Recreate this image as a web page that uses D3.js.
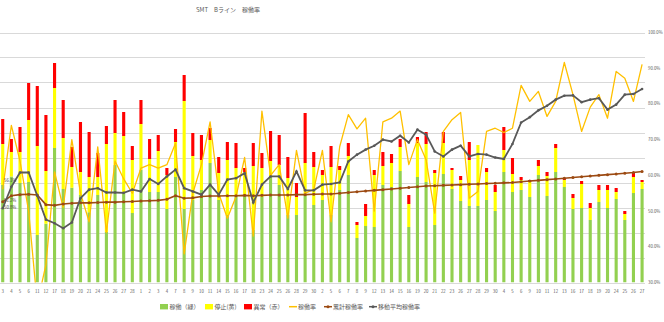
<!DOCTYPE html>
<html>
<head>
<meta charset="utf-8">
<script src="https://d3js.org/d3.v7.min.js"></script>
<style>
  html, body { margin: 0; padding: 0; background: #fff; }
  svg { display: block; font-family: "Noto Sans CJK JP", "Noto Sans", sans-serif; }
</style>
</head>
<body>
<svg id="main"></svg>
<script>
// x categories (day of month)
const days = [3,4,5,6,11,12,17,18,19,20,21,24,25,26,27,28,1,2,3,4,7,8,9,10,11,14,15,16,17,18,
  23,24,25,26,28,29,30,2,5,6,7,8,9,12,13,14,15,16,19,20,21,22,23,26,27,28,29,30,4,5,
  6,9,10,11,12,13,16,17,18,19,20,24,25,26,27];

// stacked bars (left axis, hidden, 0-100)
const running = [39.0,42.4,39.8,40.2,19.0,23.5,53.8,37.4,37.9,35.0,28.1,35.0,20.2,47.0,36.2,27.8,45.0,36.2,36.2,29.4,
  42.2,29.4,33.0,37.0,47.8,33.0,27.0,35.0,35.0,21.0,34.2,42.6,39.0,27.0,27.0,35.0,31.0,33.0,27.0,37.0,
  43.0,17.8,22.6,22.2,39.0,38.2,44.6,22.2,42.2,40.2,23.0,43.4,37.4,32.6,30.6,30.6,33.0,28.6,44.2,36.2,
  37.0,34.2,43.0,34.6,44.2,38.2,29.4,29.8,25.0,32.2,29.8,33.4,25.0,35.8,37.4];
const stopped = [16.4,9.8,12.4,24.8,35.6,21.1,24.0,20.4,8.3,9.2,14.1,7.2,35.2,12.8,22.4,21.2,18.4,13.2,16.4,13.6,
  14.0,43.2,17.6,12.0,9.2,10.8,22.0,10.8,9.2,25.6,11.6,6.0,8.0,14.8,7.2,12.8,15.2,10.0,19.2,8.0,
  7.6,5.2,4.0,20.8,7.6,9.6,9.6,9.2,13.6,15.2,20.8,12.4,7.6,8.4,18.4,24.4,11.2,7.6,8.8,7.2,
  4.0,6.0,3.6,8.0,9.6,2.8,4.4,9.6,4.8,4.8,7.2,2.8,2.4,6.4,2.8];
const errors = [10.0,5.2,10.0,14.8,24.0,22.4,10.0,15.2,8.0,20.0,18.0,9.6,7.2,13.2,9.6,5.6,9.6,8.0,6.4,2.8,
  5.2,10.4,9.2,10.0,4.8,6.4,7.2,10.0,1.6,9.2,6.0,12.0,12.0,8.4,5.6,20.0,6.0,2.0,8.4,1.6,
  5.2,1.2,4.8,2.0,5.6,3.6,3.2,3.6,2.4,4.8,1.2,4.4,0.8,1.6,7.2,0,1.6,2.8,9.2,6.4,
  1.2,0.8,2.4,1.6,1.6,0.8,1.6,1.2,2.0,2.0,2.0,1.6,1.2,2.0,0.8];

// lines (right axis, %)
const rate = [56.1,74,64,50,24,35,61,51,70,55,47,68,44,64,59,55,62,63,62,63,
  69,38,55,63,75,55,48,54,65,43,78,60,63,48,67,55,56,67,47,68,
  77,73,76,50,75,76,78,63,70,64.4,49.4,72.3,75.6,77.6,53.6,55.5,72.3,73.2,72.0,73.2,
  85.2,80.7,83.5,76.5,80.7,91.6,82.6,72.3,79.1,82.6,76.0,89.1,87.2,80.7,91.1];
const cumRate = [52.6,54.3,54.6,54.7,54.5,51.8,51.6,52.0,52.2,52.3,52.3,52.4,52.5,52.5,52.6,52.7,52.8,52.9,53.0,53.3,
  54.3,53.6,53.7,54.1,54.2,54.2,54.3,54.3,54.4,54.3,54.4,54.5,54.5,54.5,54.6,54.6,54.7,54.8,54.8,55.0,
  55.2,55.4,55.6,55.8,56.0,56.2,56.4,56.6,56.8,57.0,57.1,57.2,57.3,57.4,57.5,57.6,57.7,57.8,57.9,58.0,
  58.2,58.4,58.6,58.8,59.0,59.2,59.4,59.6,59.8,60.0,60.2,60.4,60.6,60.8,61.1];
const movAvg = [50.8,56.8,60.8,60.8,54.3,47.6,46.6,45.2,46.8,53.6,56.0,56.4,55.2,55.2,55.1,56.0,55.5,59.0,57.6,59.7,
  61.6,56.4,55.5,54.6,57.4,54.6,58.8,59.2,60.6,52.4,57.4,59.7,59.7,56.2,61.1,55.8,55.8,57.4,57.6,58.0,
  63.9,65.8,67.2,68.3,70.0,69.5,71.1,69.2,72.8,71.4,66.7,65.3,67.2,68.3,65.3,66.0,65.8,65.0,64.6,68.8,
  74.8,76.3,78.2,79.5,81.2,82.3,82.4,80.5,81.2,81.6,78.4,79.8,82.6,82.8,84.2];

// data labels shown at the first point
const firstLabels = ["56.1%", "51.2%", "50.8%"];
const rightTicks = [0.3,0.4,0.5,0.6,0.7,0.8,0.9,1.0];

const width = 664, height = 322;
const plotTop = 32.5, plotBottom = 282.5, plotLeft = 0, plotRight = 645;

const svg = d3.select("#main").attr("width", width).attr("height", height);
svg.append("rect").attr("width", width).attr("height", height).attr("fill", "#fff");

const x = d3.scaleBand().domain(d3.range(days.length)).range([-1.6, 646.4]).paddingInner(0.64).paddingOuter(0.32);
const yL = d3.scaleLinear().domain([0, 100]).range([plotBottom, plotTop]);
const yR = d3.scaleLinear().domain([0.3, 1.0]).range([plotBottom, plotTop]);
const cx = i => x(i) + x.bandwidth() / 2;

// gridlines from hidden left axis
svg.append("g")
  .selectAll("line")
  .data(yL.ticks(10))
  .join("line")
  .attr("x1", plotLeft).attr("x2", plotRight)
  .attr("y1", d => Math.round(yL(d)) + 0.5).attr("y2", d => Math.round(yL(d)) + 0.5)
  .attr("stroke", "#d9d9d9").attr("stroke-width", 1);

svg.append("defs").append("clipPath").attr("id", "plotclip")
  .append("rect").attr("x", -5).attr("y", plotTop - 2).attr("width", 660).attr("height", plotBottom - plotTop + 2);

const plot = svg.append("g").attr("clip-path", "url(#plotclip)");

// stacked bars
const stackData = days.map((d, i) => ({i, running: running[i], stopped: stopped[i], errors: errors[i]}));
const stack = d3.stack().keys(["running", "stopped", "errors"]);
const barColors = {running: "#92D050", stopped: "#FFFF00", errors: "#FF0000"};
plot.selectAll("g.series")
  .data(stack(stackData))
  .join("g")
  .attr("fill", s => barColors[s.key])
  .selectAll("rect")
  .data(s => s)
  .join("rect")
  .attr("x", d => x(d.data.i))
  .attr("width", x.bandwidth())
  .attr("y", d => yL(d[1]))
  .attr("height", d => yL(d[0]) - yL(d[1]));

// lines
const line = arr => d3.line().x((d, i) => cx(i)).y(d => yR(d / 100))(arr);

plot.append("path").attr("d", line(rate))
  .attr("fill", "none").attr("stroke", "#FFC000").attr("stroke-width", 1.3).attr("stroke-linejoin", "round");

plot.append("path").attr("d", line(cumRate))
  .attr("fill", "none").attr("stroke", "#9C4A12").attr("stroke-width", 1.6);
plot.append("g").selectAll("circle").data(cumRate).join("circle")
  .attr("cx", (d, i) => cx(i)).attr("cy", d => yR(d / 100)).attr("r", 1.5).attr("fill", "#9C4A12");

plot.append("path").attr("d", line(movAvg))
  .attr("fill", "none").attr("stroke", "#595959").attr("stroke-width", 1.8);
plot.append("g").selectAll("circle").data(movAvg).join("circle")
  .attr("cx", (d, i) => cx(i)).attr("cy", d => yR(d / 100)).attr("r", 1.3).attr("fill", "#595959");

// right axis labels
svg.append("g").selectAll("text").data(rightTicks).join("text")
  .attr("x", 648).attr("y", d => yR(d) + 1.5)
  .attr("font-size", 4.3).attr("fill", "#595959")
  .text(d => d3.format(".1%")(d));

// x labels
svg.append("g").selectAll("text").data(days).join("text")
  .attr("x", (d, i) => cx(i)).attr("y", 293)
  .attr("text-anchor", "middle").attr("font-size", 4.3).attr("fill", "#595959")
  .text(d => d);

// first-point data labels (orange above, brown/gray to the right)
const labelY = [yR(rate[0] / 100) - 9, yR(cumRate[0] / 100) - 1, yR(movAvg[0] / 100) - 0.5];
svg.append("g").selectAll("text").data(firstLabels).join("text")
  .attr("x", 4).attr("y", (d, i) => labelY[i] + 1.5)
  .attr("font-size", 4.3).attr("fill", "#404040")
  .text(d => d);

// title
svg.append("text").attr("x", 228).attr("y", 12).attr("text-anchor", "middle")
  .attr("font-size", 6).attr("fill", "#595959")
  .text("SMT　Bライン　稼働率");

// legend
const legend = [
  {label: "稼働（緑）", type: "box", color: "#92D050", x: 160},
  {label: "停止(黄)", type: "box", color: "#FFFF00", x: 205},
  {label: "異常（赤）", type: "box", color: "#FF0000", x: 244},
  {label: "稼働率", type: "line", color: "#FFC000", x: 289},
  {label: "累計稼働率", type: "line", color: "#9C4A12", x: 324, marker: true},
  {label: "移動平均稼働率", type: "line", color: "#595959", x: 369, marker: true}
];
const lg = svg.append("g").selectAll("g").data(legend).join("g")
  .attr("transform", d => `translate(${d.x},306.7)`);
lg.filter(d => d.type === "box").append("rect")
  .attr("x", 0).attr("y", -2.7).attr("width", 8).attr("height", 5.4).attr("fill", d => d.color);
lg.filter(d => d.type === "line").append("line")
  .attr("x1", 0).attr("x2", 8).attr("y1", 0).attr("y2", 0)
  .attr("stroke", d => d.color).attr("stroke-width", 1.5);
lg.filter(d => d.marker).append("circle").attr("cx", 4).attr("cy", 0).attr("r", 1.5).attr("fill", d => d.color);
lg.append("text").attr("x", d => d.type === "box" ? 9.5 : 9).attr("y", 2.1)
  .attr("font-size", 6).attr("fill", "#595959").text(d => d.label);
</script>
</body>
</html>
